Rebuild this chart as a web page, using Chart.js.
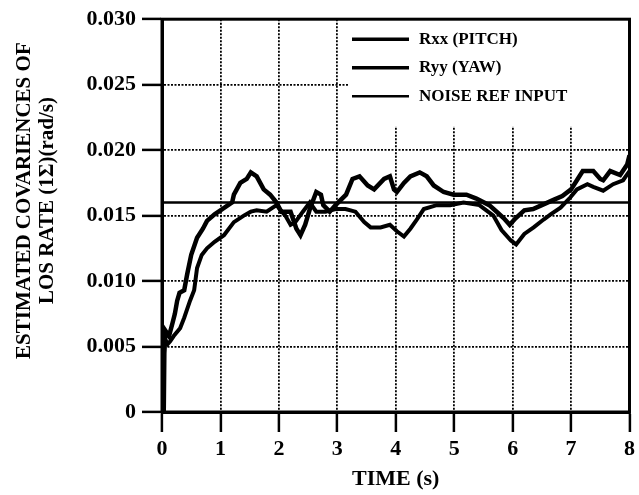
<!DOCTYPE html>
<html lang="en">
<head>
  <meta charset="UTF-8">
  <title>Estimated covariences of LOS rate</title>
  <script src="https://cdn.jsdelivr.net/npm/chart.js"></script>
  <style>
    html, body { margin: 0; padding: 0; background: #fff; }
    #wrap { width: 639px; height: 495px; }
  </style>
</head>
<body>
  <div id="wrap"><canvas id="chart-1" width="639" height="495"></canvas></div>

  <script>
    // values
    const rxxTime = [0.03, 0.04, 0.06, 0.12, 0.18, 0.22, 0.26, 0.3, 0.38, 0.43, 0.5, 0.6, 0.7, 0.77, 0.9, 1.0, 1.1, 1.2, 1.23, 1.34, 1.45, 1.52, 1.62, 1.74, 1.85, 1.96, 2.04, 2.2, 2.3, 2.37, 2.45, 2.53, 2.64, 2.72, 2.76, 2.87, 2.97, 3.15, 3.26, 3.38, 3.52, 3.63, 3.8, 3.9, 3.97, 4.02, 4.14, 4.25, 4.41, 4.53, 4.65, 4.82, 4.99, 5.21, 5.38, 5.6, 5.75, 5.85, 5.95, 6.05, 6.2, 6.35, 6.5, 6.7, 6.85, 7.0, 7.1, 7.2, 7.38, 7.5, 7.55, 7.67, 7.84, 7.96, 8.0];
    const rxx = [0, 0.0045, 0.0062, 0.0058, 0.0068, 0.0075, 0.0085, 0.0091, 0.0093, 0.0105, 0.012, 0.0133, 0.014, 0.0146, 0.0151, 0.0154, 0.0157, 0.016, 0.0166, 0.0175, 0.0178, 0.0183, 0.018, 0.017, 0.0166, 0.016, 0.0153, 0.0153, 0.014, 0.0135, 0.0143, 0.0155, 0.0168, 0.0166, 0.0158, 0.0153, 0.0158, 0.0166, 0.0178, 0.018, 0.0173, 0.017, 0.0178, 0.018, 0.017, 0.0168, 0.0175, 0.018, 0.0183, 0.018, 0.0173, 0.0168, 0.0166, 0.0166, 0.0163, 0.0158, 0.0152, 0.0148, 0.0143, 0.0148, 0.0154, 0.0155, 0.0158, 0.0162, 0.0165, 0.017, 0.0177, 0.0184, 0.0184, 0.0178, 0.0177, 0.0184, 0.0181, 0.0189, 0.0196];

    const ryyTime = [0.02, 0.03, 0.06, 0.1, 0.14, 0.2, 0.31, 0.38, 0.48, 0.55, 0.6, 0.68, 0.77, 0.9, 1.06, 1.23, 1.4, 1.52, 1.62, 1.79, 1.96, 2.11, 2.2, 2.28, 2.41, 2.53, 2.64, 2.8, 2.97, 3.14, 3.31, 3.46, 3.57, 3.74, 3.9, 4.02, 4.14, 4.25, 4.36, 4.48, 4.7, 4.93, 5.16, 5.43, 5.67, 5.81, 5.97, 6.06, 6.2, 6.36, 6.53, 6.65, 6.82, 6.99, 7.1, 7.28, 7.38, 7.55, 7.72, 7.89, 8.0];
    const ryy = [0, 0.005, 0.0055, 0.0052, 0.0054, 0.0058, 0.0064, 0.0072, 0.0085, 0.0093, 0.011, 0.012, 0.0125, 0.013, 0.0135, 0.0145, 0.015, 0.0153, 0.0154, 0.0153, 0.0158, 0.015, 0.0143, 0.0145, 0.0153, 0.016, 0.0153, 0.0153, 0.0155, 0.0155, 0.0153, 0.0145, 0.0141, 0.0141, 0.0143, 0.0138, 0.0134, 0.014, 0.0147, 0.0155, 0.0158, 0.0158, 0.016, 0.0158, 0.015, 0.0139, 0.0131, 0.0128, 0.0136, 0.0141, 0.0147, 0.0151, 0.0156, 0.0164, 0.017, 0.0174, 0.0172, 0.0169, 0.0174, 0.0177, 0.0184];

    const noiseTime = [0, 8];
    const noiseRef = [0.016, 0.016];

    const xTicks = [0, 1, 2, 3, 4, 5, 6, 7, 8];
    const yTicks = ['0', '0.005', '0.010', '0.015', '0.020', '0.025', '0.030'];
    const seriesNames = ['Rxx (PITCH)', 'Ryy (YAW)', 'NOISE REF INPUT'];
    const yTitle = ['ESTIMATED COVARIENCES OF', 'LOS RATE (1\u03A3)(rad/s)'];
    const xTitle = 'TIME (s)';

    const SERIF = "'Liberation Serif', 'DejaVu Serif', serif";

    function pts(xs, ys) {
      return xs.map((x, i) => ({ x: x, y: ys[i] }));
    }

    // legend box in the upper right of the plot, blanks the grid behind it
    const paperLegend = {
      id: 'paperLegend',
      afterDatasetsDraw(chart) {
        const { ctx, scales: { x, y }, chartArea } = chart;
        const left = x.getPixelForValue(3.2);
        const bottom = y.getPixelForValue(0.0218);
        ctx.save();
        ctx.fillStyle = '#fff';
        ctx.fillRect(left, chartArea.top, chartArea.right - left, bottom - chartArea.top);
        ctx.font = 'bold 17px ' + SERIF;
        ctx.textBaseline = 'middle';
        ctx.fillStyle = '#000';
        chart.data.datasets.forEach((ds, i) => {
          const yy = chartArea.top + 20 + i * 28.5;
          ctx.strokeStyle = '#000';
          ctx.lineWidth = Math.min(ds.borderWidth, 3.5);
          ctx.beginPath();
          ctx.moveTo(left + 3, yy);
          ctx.lineTo(left + 60, yy);
          ctx.stroke();
          ctx.fillText(ds.label, left + 70, yy);
        });
        ctx.restore();
      },
      afterDraw(chart) {
        const { ctx, chartArea } = chart;
        ctx.save();
        // frame
        ctx.strokeStyle = '#000';
        ctx.lineWidth = 3;
        ctx.strokeRect(chartArea.left, chartArea.top, chartArea.right - chartArea.left, chartArea.bottom - chartArea.top);
        // rotated y title
        const cy = (chartArea.top + chartArea.bottom) / 2 - 15;
        ctx.font = 'bold 21px ' + SERIF;
        ctx.fillStyle = '#000';
        ctx.textAlign = 'center';
        ctx.textBaseline = 'middle';
        yTitle.forEach((line, i) => {
          ctx.save();
          ctx.translate(25 + i * 23, cy);
          ctx.rotate(-Math.PI / 2);
          ctx.fillText(line, 0, 0);
          ctx.restore();
        });
        ctx.restore();
      }
    };

    const ctx = document.getElementById('chart-1');
    const chart = new Chart(ctx, {
      type: 'scatter',
      data: {
        datasets: [
          {
            label: seriesNames[0],
            data: pts(rxxTime, rxx),
            showLine: true,
            borderColor: '#000',
            borderWidth: 4.5,
            pointRadius: 0,
            tension: 0
          },
          {
            label: seriesNames[1],
            data: pts(ryyTime, ryy),
            showLine: true,
            borderColor: '#000',
            borderWidth: 4,
            pointRadius: 0,
            tension: 0
          },
          {
            label: seriesNames[2],
            data: pts(noiseTime, noiseRef),
            showLine: true,
            borderColor: '#000',
            borderWidth: 2.5,
            pointRadius: 0,
            tension: 0
          }
        ]
      },
      options: {
        responsive: false,
        animation: false,
        layout: { padding: { top: 15, right: 5, left: 0, bottom: 0 } },
        plugins: {
          legend: { display: false },
          tooltip: { enabled: false }
        },
        scales: {
          x: {
            type: 'linear',
            min: 0,
            max: 8,
            afterFit: (scale) => { scale.height = 83; },
            afterBuildTicks: (scale) => { scale.ticks = xTicks.map(v => ({ value: v })); },
            ticks: {
              color: '#000',
              padding: 4,
              font: { family: SERIF, size: 22, weight: 'bold' },
              callback: (v) => String(v)
            },
            grid: {
              color: '#000',
              lineWidth: 1.8,
              tickLength: 20,
              tickColor: '#000',
              tickWidth: 2.5,
              tickBorderDash: []
            },
            border: { display: true, color: '#000', width: 3, dash: [2, 1.5] },
            title: {
              display: true,
              text: xTitle,
              color: '#000',
              padding: { top: 0, bottom: 2 },
              font: { family: SERIF, size: 22, weight: 'bold' }
            }
          },
          y: {
            type: 'linear',
            min: 0,
            max: 0.03,
            afterFit: (scale) => { scale.width = 162; },
            afterBuildTicks: (scale) => { scale.ticks = yTicks.map(t => ({ value: parseFloat(t) })); },
            ticks: {
              color: '#000',
              padding: 6,
              font: { family: SERIF, size: 22, weight: 'bold' },
              callback: (v, i) => yTicks[i]
            },
            grid: {
              color: '#000',
              lineWidth: 1.8,
              tickLength: 20,
              tickColor: '#000',
              tickWidth: 2.5,
              tickBorderDash: []
            },
            border: { display: true, color: '#000', width: 3, dash: [2, 1.5] }
          }
        }
      },
      plugins: [paperLegend]
    });
  </script>
</body>
</html>
